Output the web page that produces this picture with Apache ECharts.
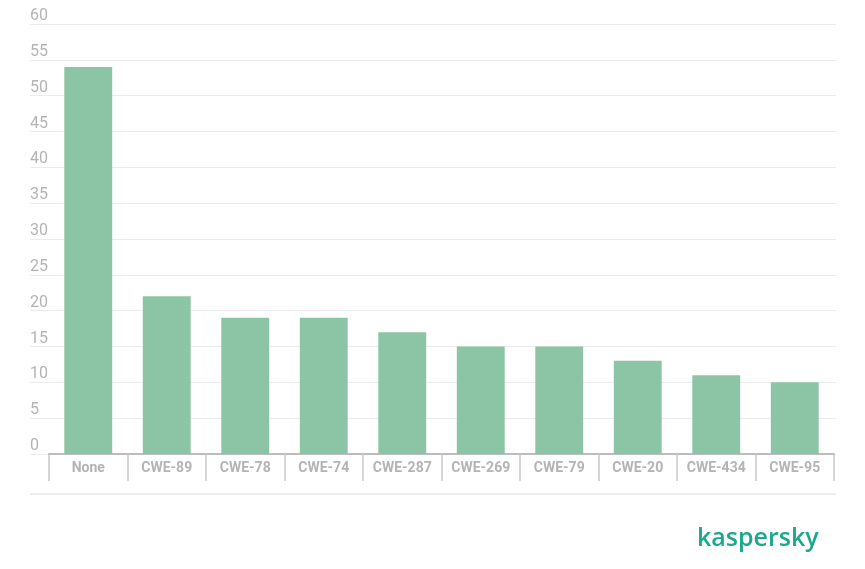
<!DOCTYPE html>
<html>
<head>
<meta charset="utf-8">
<script src="https://cdn.jsdelivr.net/npm/echarts@6/dist/echarts.min.js"></script>
<style>
  html, body { margin: 0; padding: 0; background: #fff; }
  #chart { width: 865px; height: 569px; }
</style>
</head>
<body>
<div id="chart"></div>
<script>
const categories = ['None', 'CWE-89', 'CWE-78', 'CWE-74', 'CWE-287', 'CWE-269', 'CWE-79', 'CWE-20', 'CWE-434', 'CWE-95']
const counts = [54, 22, 19, 19, 17, 15, 15, 13, 11, 10]
const yMax = 60
const yStep = 5

const barColor = '#8cc4a6'
const labelColor = '#b4b4b4'

const chart = echarts.init(document.getElementById('chart'))

chart.setOption({
  animation: false,
  textStyle: { fontFamily: 'Roboto, sans-serif' },
  grid: [
    // grid 0: y axis grid lines, spans the full width
    { left: 30, right: 29, top: 24, bottom: 115 },
    // grid 1: bars and category axis
    { left: 49, right: 31, top: 24, bottom: 115 }
  ],
  xAxis: [
    { gridIndex: 0, type: 'value', show: false },
    {
      gridIndex: 1,
      type: 'category',
      data: categories,
      axisLine: { lineStyle: { color: '#bdbdbd', width: 2 } },
      axisTick: { show: true, interval: 0, length: 27, lineStyle: { color: '#c8c8c8', width: 1.5 } },
      axisLabel: {
        color: labelColor,
        fontSize: 14,
        fontWeight: 'bold',
        margin: 7,
        interval: 0
      }
    }
  ],
  yAxis: [
    {
      gridIndex: 0,
      type: 'value',
      min: 0,
      max: yMax,
      interval: yStep,
      axisLine: { show: false },
      axisTick: { show: false },
      axisLabel: {
        inside: true,
        margin: 0,
        verticalAlign: 'bottom',
        color: labelColor,
        fontSize: 16
      },
      splitLine: { lineStyle: { color: '#ebebeb', width: 1 } }
    },
    { gridIndex: 1, type: 'value', min: 0, max: yMax, show: false }
  ],
  graphic: [
    {
      type: 'line',
      shape: { x1: 30, y1: 494, x2: 836, y2: 494 },
      style: { stroke: '#e6e6e6', lineWidth: 1.5 }
    },
    {
      type: 'text',
      left: 697,
      top: 526,
      style: {
        text: 'kaspersky',
        fill: '#1aa98c',
        font: '600 25px "Open Sans", sans-serif'
      }
    }
  ],
  series: [
    {
      type: 'bar',
      xAxisIndex: 1,
      yAxisIndex: 1,
      data: counts,
      barWidth: '61%',
      itemStyle: { color: barColor }
    }
  ]
})
</script>
</body>
</html>
